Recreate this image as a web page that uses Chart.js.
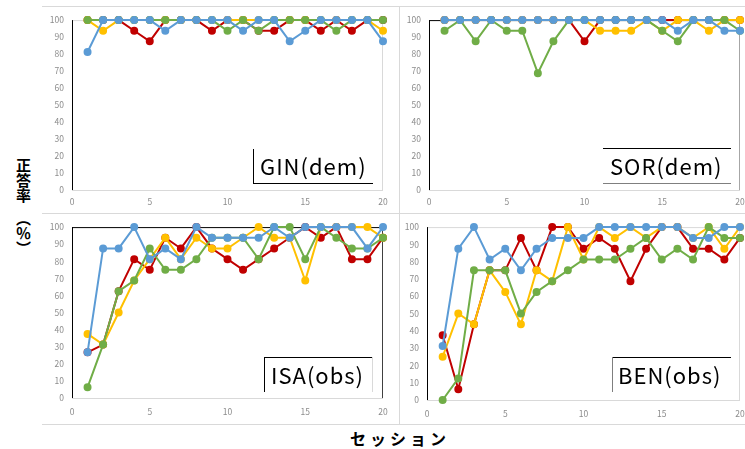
<!DOCTYPE html>
<html>
<head>
<meta charset="utf-8">
<script src="https://cdn.jsdelivr.net/npm/chart.js@4"></script>
<style>
  body { margin: 0; background: #fff; width: 745px; height: 449px; overflow: hidden; position: relative; font-family: "Noto Sans CJK JP", sans-serif; }
  canvas { position: absolute; }
  .frame { position: absolute; border-color: #d9d9d9; border-style: solid; border-width: 0; }
  #ytitle { position: absolute; left: 16px; top: 158px; writing-mode: vertical-rl; text-orientation: upright; font-weight: bold; font-size: 15px; line-height: 1; color: #000; font-family: "Noto Sans CJK JP", sans-serif; }
  #xtitle { position: absolute; left: 350px; top: 426px; font-weight: bold; font-size: 16px; color: #000; letter-spacing: 4px; font-family: "Noto Sans CJK JP", sans-serif; }
</style>
</head>
<body>
<div class="frame" style="left:42px;top:6px;width:703px;height:0;border-top-width:1px"></div>
<div class="frame" style="left:42px;top:213px;width:703px;height:0;border-top-width:1px"></div>
<div class="frame" style="left:42px;top:424px;width:703px;height:0;border-top-width:1px"></div>
<div class="frame" style="left:399px;top:6px;width:0;height:418px;border-left-width:1px"></div>

<canvas id="gin" width="356" height="207" style="left:42px;top:7px"></canvas>
<canvas id="sor" width="355" height="207" style="left:400px;top:7px"></canvas>
<canvas id="isa" width="356" height="210" style="left:42px;top:214px"></canvas>
<canvas id="ben" width="355" height="210" style="left:400px;top:214px"></canvas>

<div id="ytitle">正答率　（％）</div>
<div id="xtitle">セッション</div>

<script>
const sessions = [1,2,3,4,5,6,7,8,9,10,11,12,13,14,15,16,17,18,19,20];

const ginRed    = [100,100,100,93.75,87.5,100,100,100,93.75,100,100,93.75,93.75,100,100,93.75,100,93.75,100,100];
const ginYellow = [100,93.75,100,100,100,100,100,100,100,100,100,100,100,100,100,100,100,100,100,93.75];
const ginGreen  = [100,100,100,100,100,100,100,100,100,93.75,100,93.75,100,100,100,100,93.75,100,100,100];
const ginBlue   = [81.25,100,100,100,100,93.75,100,100,100,100,93.75,100,100,87.5,93.75,100,100,100,100,87.5];

const sorRed    = [100,100,100,100,100,100,100,100,100,87.5,100,100,100,100,100,100,100,100,100,100];
const sorYellow = [100,100,100,100,100,100,100,100,100,100,93.75,93.75,93.75,100,93.75,100,100,93.75,100,100];
const sorGreen  = [93.75,100,87.5,100,93.75,93.75,68.75,87.5,100,100,100,100,100,100,93.75,87.5,100,100,100,93.75];
const sorBlue   = [100,100,100,100,100,100,100,100,100,100,100,100,100,100,100,93.75,100,100,93.75,93.75];

const isaRed    = [26.7,31.25,62.5,81.25,75,93.75,87.5,100,87.5,81.25,75,81.25,87.5,93.75,100,93.75,100,81.25,81.25,93.75];
const isaYellow = [37.5,31.25,50,68.75,81.25,93.75,81.25,93.75,87.5,87.5,93.75,100,93.75,93.75,68.75,100,100,100,100,93.75];
const isaGreen  = [6.25,31.25,62.5,68.75,87.5,75,75,81.25,93.75,93.75,93.75,81.25,100,100,81.25,100,93.75,87.5,87.5,93.75];
const isaBlue   = [26.7,87.5,87.5,100,81.25,87.5,81.25,100,93.75,93.75,93.75,93.75,100,93.75,100,100,100,100,87.5,100];

const benRed    = [37.5,6.25,43.75,75,75,93.75,75,100,100,87.5,93.75,87.5,68.75,87.5,100,100,87.5,87.5,81.25,93.75];
const benYellow = [25,50,43.75,75,62.5,43.75,75,68.75,100,81.25,100,93.75,100,93.75,100,100,93.75,100,87.5,100];
const benGreen  = [0,12.5,75,75,75,50,62.5,68.75,75,81.25,81.25,81.25,87.5,93.75,81.25,87.5,81.25,100,93.75,93.75];
const benBlue   = [31.25,87.5,100,81.25,87.5,75,87.5,93.75,93.75,93.75,100,100,100,100,100,100,93.75,93.75,100,100];

const xTicks = [0, 5, 10, 15, 20];
const yTicks = [0, 10, 20, 30, 40, 50, 60, 70, 80, 90, 100];

const colors = ['#C00000', '#FFC000', '#70AD47', '#5B9BD5'];
const tickFont = { family: '"Noto Sans CJK JP", sans-serif', size: 8.5 };

// plot frame under the lines, label box on top
const frameLabel = {
  id: 'frameLabel',
  beforeDatasetsDraw(chart, args, opts) {
    const c = chart.ctx, a = chart.chartArea;
    c.save();
    c.lineWidth = 1;
    const side = (col, x1, y1, x2, y2) => {
      if (!col) return;
      c.strokeStyle = col;
      c.beginPath(); c.moveTo(x1, y1); c.lineTo(x2, y2); c.stroke();
    };
    const f = opts.frame;
    side(f[0], a.left, a.top + 0.5, a.right, a.top + 0.5);
    side(f[1], a.right - 0.5, a.top, a.right - 0.5, a.bottom);
    side(f[2], a.left, a.bottom + 0.5, a.right, a.bottom + 0.5);
    side(f[3], a.left + 0.5, a.top, a.left + 0.5, a.bottom);
    c.restore();
  },
  afterDraw(chart, args, opts) {
    const c = chart.ctx;
    c.save();
    c.lineWidth = 1;
    const side = (col, x1, y1, x2, y2) => {
      if (!col) return;
      c.strokeStyle = col;
      c.beginPath(); c.moveTo(x1, y1); c.lineTo(x2, y2); c.stroke();
    };
    // label box (page coords -> canvas coords)
    const b = opts.box;
    const x0 = b.x - opts.ox, y0 = b.y - opts.oy;
    side(b.sides[0], x0, y0 + 0.5, x0 + b.w, y0 + 0.5);
    side(b.sides[1], x0 + b.w - 0.5, y0, x0 + b.w - 0.5, y0 + b.h);
    side(b.sides[2], x0, y0 + b.h + 0.5, x0 + b.w, y0 + b.h + 0.5);
    side(b.sides[3], x0 + 0.5, y0, x0 + 0.5, y0 + b.h);
    c.fillStyle = '#000';
    c.font = '22px "Noto Sans CJK JP", sans-serif';
    c.letterSpacing = '1px';
    c.textBaseline = 'middle';
    c.fillText(b.text, x0 + b.tx, y0 + b.h / 2 + 1);
    c.restore();
  }
};

function makePanel(id, series, ox, oy, yWidth, xHeight, padTop, xPad, box, frame) {
  new Chart(document.getElementById(id), {
    type: 'line',
    data: {
      datasets: series.map((vals, i) => ({
        data: sessions.map((s, j) => ({ x: s, y: vals[j] })),
        borderColor: colors[i],
        backgroundColor: colors[i],
        borderWidth: 2,
        pointRadius: 3,
        pointHoverRadius: 3,
        order: 4 - i,
        tension: 0,
        clip: false
      }))
    },
    options: {
      responsive: false,
      animation: false,
      events: [],
      layout: { padding: { left: 0, top: padTop, right: 15, bottom: 0 } },
      plugins: {
        legend: { display: false },
        tooltip: { enabled: false },
        frameLabel: { ox: ox, oy: oy, box: box, frame: frame }
      },
      scales: {
        x: {
          type: 'linear', min: 0, max: 20,
          afterBuildTicks: s => { s.ticks = xTicks.map(v => ({ value: v })); },
          afterFit: s => { s.height = xHeight; },
          grid: { display: false, drawTicks: false },
          border: { display: false },
          ticks: { font: tickFont, color: '#8c8c8c', padding: xPad, maxRotation: 0 }
        },
        y: {
          min: 0, max: 100,
          afterBuildTicks: s => { s.ticks = yTicks.map(v => ({ value: v })); },
          afterFit: s => { s.width = yWidth; },
          grid: { display: false, drawTicks: false },
          border: { display: false },
          ticks: { font: tickFont, color: '#8c8c8c', padding: 8 }
        }
      }
    },
    plugins: [frameLabel]
  });
}

const lg = '#d9d9d9';
makePanel('gin', [ginRed, ginYellow, ginGreen, ginBlue], 42, 7, 30, 24, 10, 7,
  { x: 253, y: 149, w: 120, h: 34, tx: 7, text: 'GIN(dem)', sides: [null, null, '#000', '#000'] },
  [lg, lg, lg, '#000']);
makePanel('sor', [sorRed, sorYellow, sorGreen, sorBlue], 400, 7, 29, 24, 10, 7,
  { x: 603, y: 148, w: 128, h: 35, tx: 7, text: 'SOR(dem)', sides: ['#000', null, '#7f7f7f', null] },
  ['#000', '#a6a6a6', lg, '#000']);
makePanel('isa', [isaRed, isaYellow, isaGreen, isaBlue], 42, 214, 30, 26, 12, 9,
  { x: 264, y: 357, w: 109, h: 35, tx: 7, text: 'ISA(obs)', sides: ['#000', lg, null, '#000'] },
  ['#000', '#404040', lg, '#000']);
makePanel('ben', [benRed, benYellow, benGreen, benBlue], 400, 214, 27, 24, 12, 9,
  { x: 612, y: 357, w: 119, h: 35, tx: 6, text: 'BEN(obs)', sides: ['#000', null, null, '#7f7f7f'] },
  [lg, lg, lg, '#000']);
</script>
</body>
</html>
